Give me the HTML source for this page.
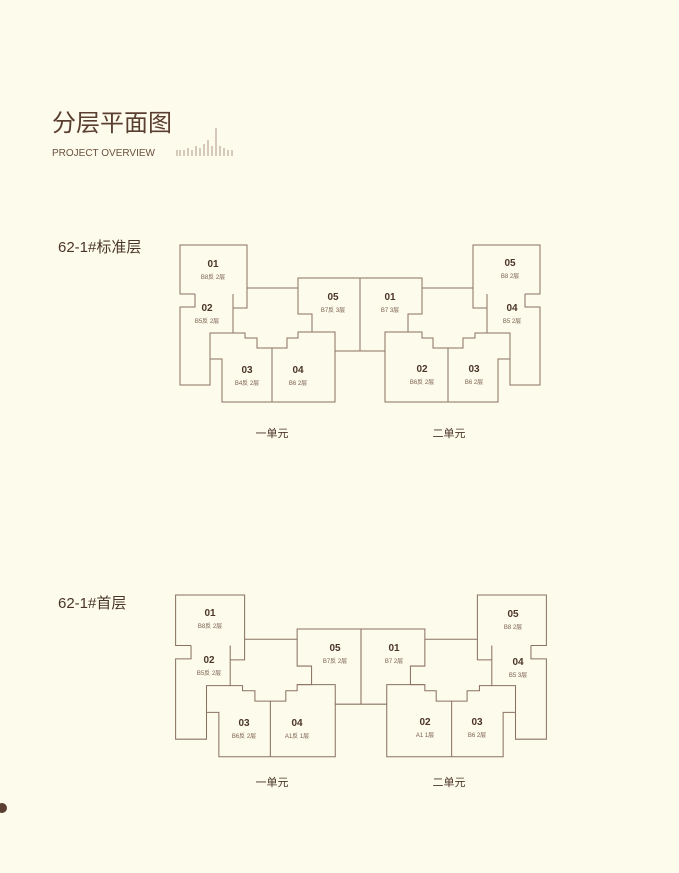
<!DOCTYPE html>
<html><head><meta charset="utf-8"><style>
html,body{margin:0;padding:0;background:#fdfbec;}
body{width:679px;height:873px;position:relative;overflow:hidden;font-family:"Liberation Sans","Noto Sans CJK SC",sans-serif;}
</style></head><body>
<svg width="679" height="873" viewBox="0 0 679 873" xmlns="http://www.w3.org/2000/svg" style="position:absolute;left:0;top:0">
<rect width="679" height="873" fill="#fdfbec"/>
<text x="52" y="131" font-family="Noto Sans CJK SC, sans-serif" font-size="24" fill="#5a3f30">分层平面图</text>
<text x="52" y="156" font-family="Liberation Sans, sans-serif" font-size="10" fill="#6a5040">PROJECT OVERVIEW</text>
<g stroke="#c8b8a8" stroke-width="1.5">
<line x1="177" y1="150" x2="177" y2="156"/><line x1="180" y1="150" x2="180" y2="156"/><line x1="184" y1="150" x2="184" y2="156"/><line x1="188" y1="148" x2="188" y2="156"/><line x1="192" y1="150" x2="192" y2="156"/><line x1="196" y1="146" x2="196" y2="156"/><line x1="200" y1="148" x2="200" y2="156"/><line x1="204" y1="144" x2="204" y2="156"/><line x1="208" y1="140" x2="208" y2="156"/><line x1="212" y1="146" x2="212" y2="156"/><line x1="216" y1="128" x2="216" y2="156"/><line x1="220" y1="146" x2="220" y2="156"/><line x1="224" y1="148" x2="224" y2="156"/><line x1="228" y1="150" x2="228" y2="156"/><line x1="232" y1="150" x2="232" y2="156"/>
</g>
<text x="58" y="252" font-family="Liberation Sans, Noto Sans CJK SC, sans-serif" font-size="15" fill="#4a3528">62-1#标准层</text>
<text x="58" y="608" font-family="Liberation Sans, Noto Sans CJK SC, sans-serif" font-size="15" fill="#4a3528">62-1#首层</text>

<defs>
<g id="half" fill="none" stroke="#8a7262" stroke-width="1">
<path d="M195,294 H180 V245 H247 V308 H233"/>
<path d="M195,294 V307 H180 V385 H210 V359 H222 V402 H335 V351 H360"/>
<path d="M233,294 V333 H210 V359"/>
<path d="M233,333 H245 V338 H257 V348 H272 V402"/>
<path d="M272,348 H287 V338 H298 V332 H335 V351"/>
<path d="M298,332 H312 V314 H298 V278 H360 V351"/>
<path d="M247,288 H298"/>
</g>
<g id="plan">
<use href="#half"/>
<use href="#half" transform="translate(720,0) scale(-1,1)"/>
</g>
</defs>
<use href="#plan"/>
<use href="#plan" transform="translate(361,595) scale(1.03,1.03) translate(-360,-245)"/>

<g font-family="Liberation Sans, Noto Sans CJK SC, sans-serif" fill="#4a3528" text-anchor="middle">
<g font-size="10" font-weight="bold">
<text x="213" y="267">01</text><text x="207" y="311">02</text><text x="247" y="373">03</text><text x="298" y="373">04</text><text x="333" y="300">05</text>
<text x="390" y="300">01</text><text x="422" y="372">02</text><text x="474" y="372">03</text><text x="512" y="311">04</text><text x="510" y="266">05</text>
<text x="210" y="616">01</text><text x="209" y="663">02</text><text x="244" y="726">03</text><text x="297" y="726">04</text><text x="335" y="651">05</text>
<text x="394" y="651">01</text><text x="425" y="725">02</text><text x="477" y="725">03</text><text x="518" y="665">04</text><text x="513" y="617">05</text>
</g>
<g font-size="6" fill="#7a6050">
<text x="213" y="279">B8反 2层</text><text x="207" y="323">B5反 2层</text><text x="247" y="385">B4反 2层</text><text x="298" y="385">B6 2层</text><text x="333" y="312">B7反 3层</text>
<text x="390" y="312">B7 3层</text><text x="422" y="384">B6反 2层</text><text x="474" y="384">B6 2层</text><text x="512" y="323">B5 2层</text><text x="510" y="278">B8 2层</text>
<text x="210" y="628">B8反 2层</text><text x="209" y="675">B5反 2层</text><text x="244" y="738">B6反 2层</text><text x="297" y="738">A1反 1层</text><text x="335" y="663">B7反 2层</text>
<text x="394" y="663">B7 2层</text><text x="425" y="737">A1 1层</text><text x="477" y="737">B6 2层</text><text x="518" y="677">B5 3层</text><text x="513" y="629">B8 2层</text>
</g>
<g font-size="11" font-family="Noto Sans CJK SC, sans-serif">
<text x="272" y="437">一单元</text><text x="449" y="437">二单元</text>
<text x="272" y="786">一单元</text><text x="449" y="786">二单元</text>
</g>
</g>
<circle cx="2" cy="808" r="5" fill="#5a3f30"/>
</svg>
</body></html>
